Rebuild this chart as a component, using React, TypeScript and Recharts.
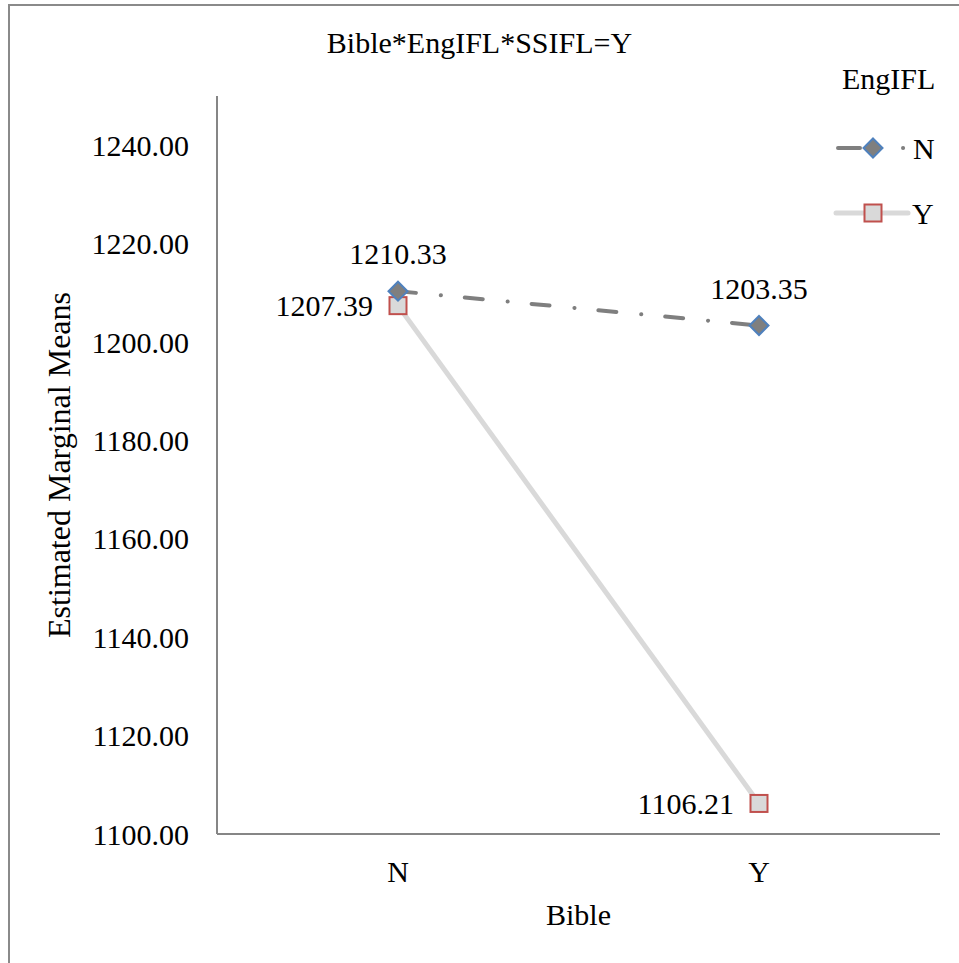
import React from 'react';
import { LineChart, Line, XAxis, YAxis, Legend, Label, LabelList } from 'recharts';

const bibleLevels = ['N', 'Y'];
const engIflN = [1210.33, 1203.35];
const engIflY = [1207.39, 1106.21];
const yTicks = [1100, 1120, 1140, 1160, 1180, 1200, 1220, 1240];

const FONT = '"Liberation Serif", "Times New Roman", serif';
const FS = 30;
const AXIS = '#868686';

const data = bibleLevels.map((b, i) => ({ bible: b, N: engIflN[i], Y: engIflY[i] }));

const Diamond = (props: any) => {
  const { cx, cy, index } = props;
  const r = 9.5;
  return (
    <polygon
      key={`dn-${index}`}
      points={`${cx},${cy - r} ${cx + r},${cy} ${cx},${cy + r} ${cx - r},${cy}`}
      fill="#7f7f7f"
      stroke="#4f81bd"
      strokeWidth={2}
    />
  );
};

const Square = (props: any) => {
  const { cx, cy, index } = props;
  const s = 17;
  return (
    <rect key={`dy-${index}`} x={cx - s / 2} y={cy - s / 2} width={s} height={s} fill="#d9d9d9" stroke="#c0504d" strokeWidth={2} />
  );
};

const renderLegend = () => (
  <div style={{ fontFamily: FONT, fontSize: FS, color: '#000', lineHeight: 1 }}>
    <div style={{ position: 'absolute', left: 12, top: 4 }}>EngIFL</div>
    <svg width={129} height={180} style={{ position: 'absolute', left: 0, top: 0, overflow: 'visible' }}>
      {/* N: dash-dot grey with diamond */}
      <line x1={6} y1={88} x2={78} y2={88} stroke="#7f7f7f" strokeWidth={4} strokeLinecap="round" strokeDasharray="22 43 0.1 40" strokeDashoffset={-2} />
      <polygon points="43,78.5 52.5,88 43,97.5 33.5,88" fill="#7f7f7f" stroke="#4f81bd" strokeWidth={2} />
      <text x={83} y={88} dominantBaseline="central" fontFamily={FONT} fontSize={FS} fill="#000">N</text>
      {/* Y: solid light grey with square */}
      <line x1={6} y1={153} x2={78} y2={153} stroke="#d9d9d9" strokeWidth={5} strokeLinecap="round" />
      <rect x={34.5} y={144.5} width={17} height={17} fill="#d9d9d9" stroke="#c0504d" strokeWidth={2} />
      <text x={82} y={153} dominantBaseline="central" fontFamily={FONT} fontSize={FS} fill="#000">Y</text>
    </svg>
  </div>
);

export default function App() {
  return (
    <div style={{ position: 'absolute', left: 0, top: 0, width: 959, height: 963, background: '#fff', overflow: 'hidden' }}>
      <div style={{ position: 'absolute', left: 8, top: 4, right: -10, bottom: -10, border: '2px solid #8a8a8a' }} />
      <div style={{ position: 'absolute', left: 0, top: 28, width: 959, textAlign: 'center', fontFamily: FONT, fontSize: FS, color: '#000', lineHeight: 1 }}>
        Bible*EngIFL*SSIFL=Y
      </div>
      <div style={{ position: 'absolute', left: 0, top: 0 }}>
        <LineChart width={959} height={963} data={data} margin={{ top: 96, right: 19, bottom: 29, left: 0 }}>
          <XAxis
            dataKey="bible"
            type="category"
            padding={{ left: 181, right: 181 }}
            height={100}
            tickLine={false}
            tickSize={0}
            tickMargin={27}
            axisLine={{ stroke: AXIS, strokeWidth: 2 }}
            tick={{ fill: '#000', fontSize: FS, fontFamily: FONT }}
          >
            <Label
              value="Bible"
              position="insideTop"
              offset={70}
              style={{ fill: '#000', fontSize: FS, fontFamily: FONT }}
            />
          </XAxis>
          <YAxis
            type="number"
            domain={[1100, 1250]}
            ticks={yTicks}
            width={217}
            tickLine={false}
            tickSize={0}
            tickMargin={28}
            axisLine={{ stroke: AXIS, strokeWidth: 2 }}
            tickFormatter={(v: number) => v.toFixed(2)}
            tick={{ fill: '#000', fontSize: FS, fontFamily: FONT }}
          >
            <Label
              content={(props: any) => {
                const vb = props.viewBox || { y: 96, height: 738 };
                const cy = vb.y + vb.height / 2;
                return (
                  <text
                    x={70}
                    y={cy}
                    transform={`rotate(-90, 70, ${cy})`}
                    textAnchor="middle"
                    fontFamily={FONT}
                    fontSize={32}
                    fill="#000"
                  >
                    Estimated Marginal Means
                  </text>
                );
              }}
            />
          </YAxis>
          <Legend
            content={renderLegend}
            wrapperStyle={{ position: 'absolute', left: 830, top: 60, width: 0, height: 0, overflow: 'visible' }}
          />
          <Line
            dataKey="Y"
            name="Y"
            stroke="#d9d9d9"
            strokeWidth={5}
            dot={Square}
            activeDot={false}
            isAnimationActive={false}
          >
            <LabelList dataKey="Y" position="left" offset={25} formatter={(v: number) => v.toFixed(2)} fill="#000" fontSize={FS} fontFamily={FONT} />
          </Line>
          <Line
            dataKey="N"
            name="N"
            stroke="#7f7f7f"
            strokeWidth={4}
            strokeLinecap="round"
            strokeDasharray="18 25 0.1 24"
            dot={Diamond}
            activeDot={false}
            isAnimationActive={false}
          >
            <LabelList dataKey="N" position="top" offset={27} formatter={(v: number) => v.toFixed(2)} fill="#000" fontSize={FS} fontFamily={FONT} />
          </Line>
        </LineChart>
      </div>
    </div>
  );
}
